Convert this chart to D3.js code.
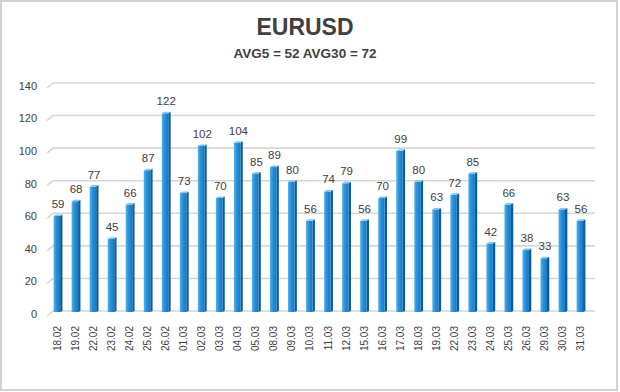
<!DOCTYPE html>
<html>
<head>
<meta charset="utf-8">
<script src="https://cdn.jsdelivr.net/npm/d3@7"></script>
<style>
  html, body { margin: 0; padding: 0; background: #fff; }
  svg { display: block; }
</style>
</head>
<body>
<script>
const title = "EURUSD";
const subtitle = "AVG5 = 52 AVG30 = 72";
const categories = ["18.02","19.02","22.02","23.02","24.02","25.02","26.02","01.03","02.03","03.03","04.03","05.03","08.03","09.03","10.03","11.03","12.03","15.03","16.03","17.03","18.03","19.03","22.03","23.03","24.03","25.03","26.03","29.03","30.03","31.03"];
const values = [59,68,77,45,66,87,122,73,102,70,104,85,89,80,56,74,79,56,70,99,80,63,72,85,42,66,38,33,63,56];
const yTicks = [0,20,40,60,80,100,120,140];

const W = 620, H = 392;
const svg = d3.select("body").append("svg").attr("width", W).attr("height", H);

const defs = svg.append("defs");
const g1 = defs.append("linearGradient").attr("id", "front").attr("x1", 0).attr("x2", 1).attr("y1", 0).attr("y2", 0);
g1.append("stop").attr("offset", 0).attr("stop-color", "#58b0ea");
g1.append("stop").attr("offset", 0.45).attr("stop-color", "#2490da");
g1.append("stop").attr("offset", 1).attr("stop-color", "#1679c4");

// frame
svg.append("rect").attr("x", 1).attr("y", 1).attr("width", W - 4).attr("height", H - 3)
  .attr("fill", "#fff").attr("stroke", "#d2d2d2").attr("stroke-width", 2);

const x = d3.scaleBand().domain(categories).range([49, 590]).padding(0);
const y = d3.scaleLinear().domain([0, 140]).range([311, 83]);
const bw = x.bandwidth();
const front = bw * 0.36, side = bw * 0.13;

// gridlines (3D back wall look)
const grid = svg.append("g");
yTicks.forEach(v => {
  const yy = y(v);
  grid.append("path")
    .attr("d", `M47,${yy + 5} L53,${yy} L595,${yy}`)
    .attr("fill", "none").attr("stroke", "#d6d6d6").attr("stroke-width", 1.6);
});

// y axis labels
svg.append("g").selectAll("text").data(yTicks).join("text")
  .attr("x", 37).attr("y", d => y(d) + 3)
  .attr("dy", "0.35em").attr("text-anchor", "end")
  .attr("font-family", "Liberation Sans, Arial, sans-serif").attr("font-size", 11)
  .attr("fill", "#404040").text(d => d);

// bars
const bars = svg.append("g").selectAll("g").data(values).join("g")
  .attr("transform", (d, i) => `translate(${x(categories[i]) + bw / 2},0)`);
bars.append("path")
  .attr("d", d => {
    const t = y(d) + 1, b = y(0) + 1, l = -front / 2 - side / 2 + front, r = l + side;
    return `M${l},${t} L${r},${t - 1.5} L${r},${b - 1} L${l},${b} Z`;
  }).attr("fill", "#0d5b98");
bars.append("rect")
  .attr("x", -front / 2 - side / 2).attr("width", front)
  .attr("y", d => y(d) + 1).attr("height", d => y(0) - y(d))
  .attr("fill", "url(#front)");
bars.append("path")
  .attr("d", d => {
    const t = y(d) + 1, l = -front / 2 - side / 2;
    return `M${l},${t} L${l + side},${t - 1.5} L${l + front + side},${t - 1.5} L${l + front},${t} Z`;
  }).attr("fill", "#7cc6f4");

// value labels
bars.append("text")
  .attr("x", 0).attr("y", d => y(d) - 7)
  .attr("text-anchor", "middle")
  .attr("font-family", "Liberation Sans, Arial, sans-serif").attr("font-size", 11.5)
  .attr("fill", "#404040").text(d => d);

// x labels
svg.append("g").selectAll("text").data(categories).join("text")
  .attr("transform", d => `translate(${x(d) + bw / 2 - 0.5},326) rotate(-90)`)
  .attr("text-anchor", "end").attr("dy", "0.35em")
  .attr("font-family", "Liberation Sans, Arial, sans-serif").attr("font-size", 10)
  .attr("fill", "#404040").text(d => d);

// titles
svg.append("text").attr("x", 305).attr("y", 35).attr("text-anchor", "middle")
  .attr("font-family", "Liberation Sans, Arial, sans-serif").attr("font-weight", "bold")
  .attr("font-size", 23).attr("fill", "#404040").text(title);
svg.append("text").attr("x", 305).attr("y", 58).attr("text-anchor", "middle")
  .attr("font-family", "Liberation Sans, Arial, sans-serif").attr("font-weight", "bold")
  .attr("font-size", 13.5).attr("fill", "#404040").text(subtitle);
</script>
</body>
</html>
